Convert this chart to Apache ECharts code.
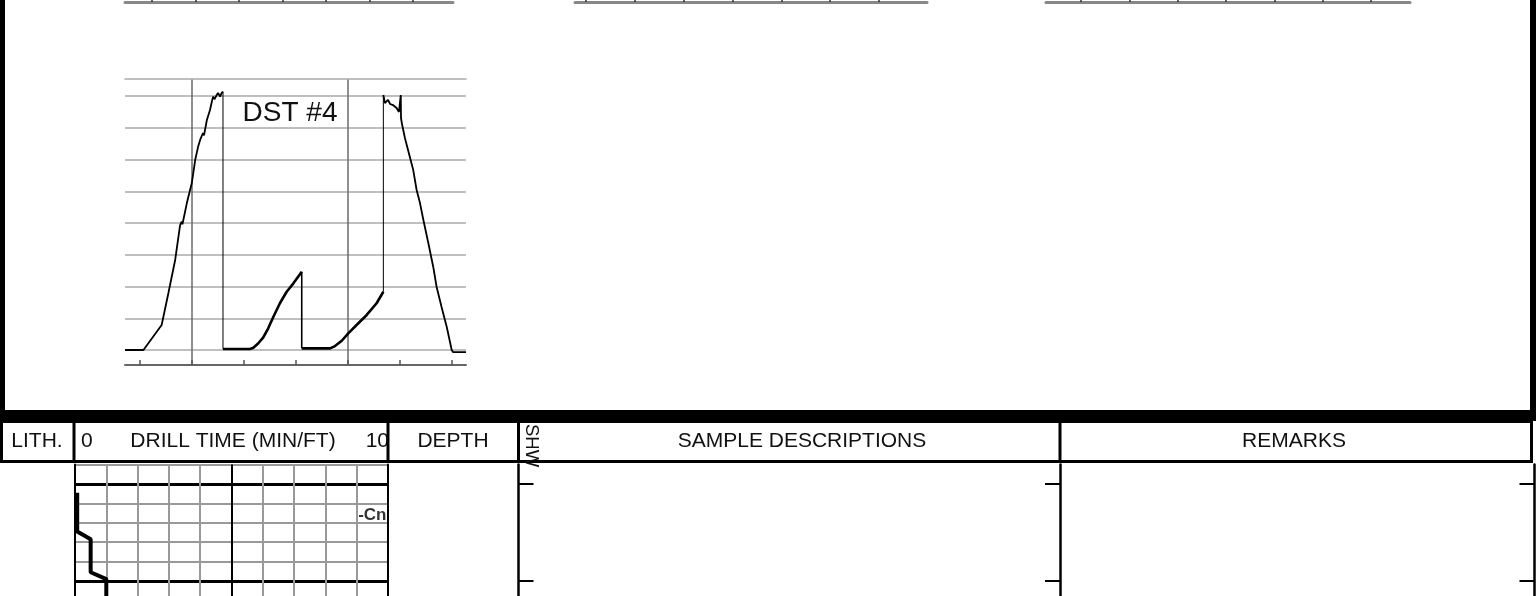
<!DOCTYPE html>
<html><head><meta charset="utf-8">
<script src="https://cdn.jsdelivr.net/npm/echarts@6/dist/echarts.min.js"></script>
<style>html,body{margin:0;padding:0;background:#fff}#c{width:1538px;height:596px}</style>
</head><body><div id="c"></div><script>
// ---- DST #4 pressure chart: [time (min), pressure (psi)] ----
const runInTrace = [[34.2,0],[41.3,0],[48.3,197],[50.9,449],[53.5,709],[55.4,984],[56.0,1010],[56.3,990],[58.0,1157],[59.9,1315],[61.2,1496],[62.3,1598],[63.1,1654],[64.2,1709],[64.6,1690],[65.7,1811],[66.9,1890],[67.6,1955],[68.1,1995],[68.6,1975],[69.5,2008],[70.0,2024],[70.8,1995],[71.4,2024],[71.9,2034]];
const toolOpenDrop = [[71.9,2034],[71.9,8]];
const firstFlow = [[71.9,8],[82.3,8],[83.6,18],[85.5,53],[87.4,100],[89.3,171],[91.3,262],[93.8,368],[96.4,459],[99.0,525],[102.2,617]];
const shutInDrop = [[102.2,617],[102.2,13]];
const secondFlow = [[102.2,13],[113.1,13],[115.0,31],[117.6,73],[120.1,131],[123.3,197],[127.2,276],[131.0,368],[133.6,459]];
const toolCloseRise = [[133.6,459],[133.6,2008]];
const runOutTrace = [[133.6,2008],[134.2,1945],[135.4,1969],[136.2,1937],[137.3,1929],[138.7,1906],[139.6,1874],[140.3,1866],[140.3,2008],[140.4,1827],[140.7,1787],[141.9,1669],[143.8,1520],[145.1,1417],[146.4,1260],[147.7,1157],[149.0,1024],[150.9,843],[152.8,654],[154.1,496],[156.0,339],[158.0,181],[159.9,0],[160.4,-16],[165.4,-16]];
const pressureTicks = [0,250,500,750,1000,1250,1500,1750,2000];
const timeTicks = [40,60,80,100,120,140,160];
const timeHourMarks = [60,120];
const dstTitle = 'DST #4';

// ---- cut-off charts above (only bottom axes visible) ----
const prevAxisTicks = [20,40,60,80,100,120,140];

// ---- drill time log ----
const drillTime = [0.07,0.07,0.5,0.5,1.0,1.0];          // min/ft
const drillDepth = [4420.45,4422.45,4422.85,4424.55,4424.9,4426]; // ft
const depthMajorTicks = [4420,4425,4430];
const drillCenterMark = [5];
const markerLabels = ['-Cn'];
const markerDepths = [4421.6];
const markerTimes = [10];

// ---- header ----
const headerLabels = ['LITH.','0','DRILL TIME (MIN/FT)','10','DEPTH','SHW','SAMPLE DESCRIPTIONS','REMARKS'];

const FONT = 'Liberation Sans, Arial, sans-serif';
const pair = (a,b) => a.map((v,i)=>[v,b[i]]);

const hiddenAxis = {show:false};
const lineS = (data, w, z) => ({type:'line', xAxisIndex:0, yAxisIndex:0, data, showSymbol:false, symbol:'none', lineStyle:{color:'#000', width:w}, z:z||3, silent:true});

const option = {
  animation:false,
  backgroundColor:'#fff',
  grid:[
    {left:125, top:79, width:341, height:286, outerBoundsMode:'none'},
    {left:125, top:-60, width:328, height:62, outerBoundsMode:'none'},
    {left:575, top:-60, width:352, height:62, outerBoundsMode:'none'},
    {left:1046, top:-60, width:364, height:62, outerBoundsMode:'none'},
    {left:75, top:464.6, width:313, height:213.4, outerBoundsMode:'none'},
    {left:518.5, top:464.6, width:541.5, height:213.4, outerBoundsMode:'none'},
    {left:1060, top:464.6, width:474.5, height:213.4, outerBoundsMode:'none'}
  ],
  xAxis:[
    {gridIndex:0, type:'value', position:'bottom', min:34.2, max:165.4,
      axisLine:{show:true, onZero:false, lineStyle:{color:'#666', width:2}},
      axisTick:{show:true, inside:true, length:5, customValues:timeTicks, lineStyle:{color:'#555', width:1.5}},
      axisLabel:{show:false}, splitLine:{show:false}},
    {gridIndex:0, type:'value', position:'top', min:34.2, max:165.4,
      axisLine:{show:true, onZero:false, lineStyle:{color:'#aaa', width:1.5}},
      axisTick:{show:false, customValues:timeHourMarks},
      axisLabel:{show:false}, splitLine:{show:true, lineStyle:{color:'#6a6a6a', width:1.5}}},
    {gridIndex:1, type:'value', min:7.6, max:158.4,
      axisLine:{show:true, onZero:false, lineStyle:{color:'#888', width:3}},
      axisTick:{show:true, inside:true, length:3, customValues:prevAxisTicks, lineStyle:{color:'#333', width:1.5}},
      axisLabel:{show:false}, splitLine:{show:false}},
    {gridIndex:2, type:'value', min:15.5, max:159.7,
      axisLine:{show:true, onZero:false, lineStyle:{color:'#888', width:3}},
      axisTick:{show:true, inside:true, length:3, customValues:prevAxisTicks, lineStyle:{color:'#333', width:1.5}},
      axisLabel:{show:false}, splitLine:{show:false}},
    {gridIndex:3, type:'value', min:5.5, max:156.1,
      axisLine:{show:true, onZero:false, lineStyle:{color:'#888', width:3}},
      axisTick:{show:true, inside:true, length:3, customValues:prevAxisTicks, lineStyle:{color:'#333', width:1.5}},
      axisLabel:{show:false}, splitLine:{show:false}},
    {gridIndex:4, type:'value', position:'bottom', min:0, max:10, interval:1,
      axisLine:{show:false, onZero:false}, axisTick:{show:false}, axisLabel:{show:false},
      splitLine:{show:true, lineStyle:{color:'#999', width:2}}},
    {gridIndex:4, type:'value', position:'top', min:0, max:10,
      axisLine:{show:false, onZero:false}, axisTick:{show:false, customValues:drillCenterMark}, axisLabel:{show:false},
      splitLine:{show:true, lineStyle:{color:'#000', width:2}}},
    Object.assign({gridIndex:5, type:'value', min:0, max:1, axisLine:{onZero:false}}, hiddenAxis),
    Object.assign({gridIndex:6, type:'value', min:0, max:1, axisLine:{onZero:false}}, hiddenAxis)
  ],
  yAxis:[
    {gridIndex:0, type:'value', min:-118, max:2134,
      axisLine:{show:false, onZero:false}, axisTick:{show:false, customValues:pressureTicks}, axisLabel:{show:false},
      splitLine:{show:true, lineStyle:{color:'#aaa', width:1.5}}},
    Object.assign({gridIndex:1, type:'value', min:0, max:1, axisLine:{onZero:false}}, hiddenAxis),
    Object.assign({gridIndex:2, type:'value', min:0, max:1, axisLine:{onZero:false}}, hiddenAxis),
    Object.assign({gridIndex:3, type:'value', min:0, max:1, axisLine:{onZero:false}}, hiddenAxis),
    {gridIndex:4, type:'value', position:'left', inverse:true, min:4419, max:4430, interval:1,
      axisLine:{show:true, onZero:false, lineStyle:{color:'#000', width:2}}, axisTick:{show:false}, axisLabel:{show:false},
      splitLine:{show:true, lineStyle:{color:'#999', width:2}}},
    {gridIndex:4, type:'value', position:'right', inverse:true, min:4419, max:4430,
      axisLine:{show:true, onZero:false, lineStyle:{color:'#000', width:2}}, axisTick:{show:false, customValues:depthMajorTicks}, axisLabel:{show:false},
      splitLine:{show:true, lineStyle:{color:'#000', width:3}}},
    {gridIndex:5, type:'value', position:'left', inverse:true, min:4419, max:4430,
      axisLine:{show:true, onZero:false, lineStyle:{color:'#000', width:2.5}},
      axisTick:{show:true, inside:true, length:15, customValues:depthMajorTicks, lineStyle:{color:'#000', width:2}},
      axisLabel:{show:false}, splitLine:{show:false}},
    {gridIndex:5, type:'value', position:'right', inverse:true, min:4419, max:4430,
      axisLine:{show:true, onZero:false, lineStyle:{color:'#000', width:2.5}},
      axisTick:{show:true, inside:true, length:15, customValues:depthMajorTicks, lineStyle:{color:'#000', width:2}},
      axisLabel:{show:false}, splitLine:{show:false}},
    {gridIndex:6, type:'value', position:'right', inverse:true, min:4419, max:4430,
      axisLine:{show:true, onZero:false, lineStyle:{color:'#000', width:2.5}},
      axisTick:{show:true, inside:true, length:15, customValues:depthMajorTicks, lineStyle:{color:'#000', width:2}},
      axisLabel:{show:false}, splitLine:{show:false}}
  ],
  series:[
    lineS(runInTrace, 1.8),
    lineS(toolOpenDrop, 1),
    lineS(firstFlow, 2.6),
    lineS(shutInDrop, 1.6),
    lineS(secondFlow, 2.6),
    lineS(toolCloseRise, 1),
    lineS(runOutTrace, 1.8),
    {type:'line', xAxisIndex:5, yAxisIndex:4, data:pair(drillTime, drillDepth), showSymbol:false, symbol:'none',
      lineStyle:{color:'#000', width:4}, z:5, silent:true},
    {type:'scatter', xAxisIndex:5, yAxisIndex:4, data:pair(markerTimes, markerDepths).map((p,i)=>({value:p, name:markerLabels[i]})),
      symbolSize:1, itemStyle:{color:'rgba(0,0,0,0)'}, z:6, silent:true,
      label:{show:true, position:'left', distance:1, formatter:p=>p.name, color:'#000', fontWeight:'bold', fontSize:17, fontFamily:FONT}}
  ],
  graphic:[
    {type:'rect', shape:{x:0,y:0,width:5,height:420}, style:{fill:'#000'}, z:100},
    {type:'rect', shape:{x:1530,y:0,width:6,height:420}, style:{fill:'#000'}, z:100},
    {type:'rect', shape:{x:0,y:410,width:1536,height:11}, style:{fill:'#000'}, z:100},
    {type:'rect', shape:{x:1.5,y:421.5,width:1530,height:40}, style:{fill:'#fff', stroke:'#000', lineWidth:3}, z:99},
    {type:'line', shape:{x1:74,y1:421,x2:74,y2:462}, style:{stroke:'#000', lineWidth:3}, z:100},
    {type:'line', shape:{x1:388,y1:421,x2:388,y2:462}, style:{stroke:'#000', lineWidth:3}, z:100},
    {type:'line', shape:{x1:518.5,y1:421,x2:518.5,y2:462}, style:{stroke:'#000', lineWidth:3}, z:100},
    {type:'line', shape:{x1:1060,y1:421,x2:1060,y2:462}, style:{stroke:'#000', lineWidth:3}, z:100},
    {type:'text', x:37, y:441, style:{text:headerLabels[0], align:'center', verticalAlign:'middle', textAlign:'center', textVerticalAlign:'middle', fontSize:21, fontFamily:FONT, fill:'#111'}, z:101},
    {type:'text', x:81, y:441, style:{text:headerLabels[1], align:'left', verticalAlign:'middle', textAlign:'left', textVerticalAlign:'middle', fontSize:21, fontFamily:FONT, fill:'#111'}, z:101},
    {type:'text', x:233, y:441, style:{text:headerLabels[2], align:'center', verticalAlign:'middle', textAlign:'center', textVerticalAlign:'middle', fontSize:21, fontFamily:FONT, fill:'#111'}, z:101},
    {type:'text', x:389, y:441, style:{text:headerLabels[3], align:'right', verticalAlign:'middle', textAlign:'right', textVerticalAlign:'middle', fontSize:21, fontFamily:FONT, fill:'#111'}, z:99.5},
    {type:'text', x:453, y:441, style:{text:headerLabels[4], align:'center', verticalAlign:'middle', textAlign:'center', textVerticalAlign:'middle', fontSize:21, fontFamily:FONT, fill:'#111'}, z:101},
    {type:'text', x:531, y:424, rotation:-Math.PI/2, style:{text:headerLabels[5], align:'left', verticalAlign:'middle', textAlign:'left', textVerticalAlign:'middle', fontSize:18.5, fontFamily:FONT, fill:'#111'}, z:101},
    {type:'text', x:802, y:441, style:{text:headerLabels[6], align:'center', verticalAlign:'middle', textAlign:'center', textVerticalAlign:'middle', fontSize:21, fontFamily:FONT, fill:'#111'}, z:101},
    {type:'text', x:1294, y:441, style:{text:headerLabels[7], align:'center', verticalAlign:'middle', textAlign:'center', textVerticalAlign:'middle', fontSize:21, fontFamily:FONT, fill:'#111'}, z:101},
    {type:'text', x:290, y:113, style:{text:dstTitle, align:'center', verticalAlign:'middle', textAlign:'center', textVerticalAlign:'middle', fontSize:28, fontFamily:FONT, fill:'#111'}, z:101}
  ]
};
const chart = echarts.init(document.getElementById('c'), null, {renderer:'canvas', width:1538, height:596});
chart.setOption(option);
</script></body></html>
